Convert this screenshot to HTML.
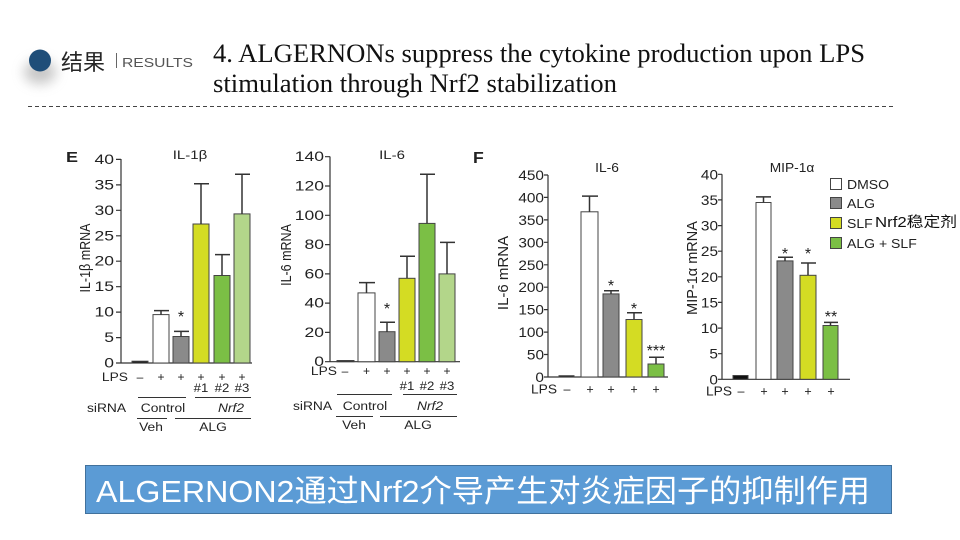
<!DOCTYPE html>
<html>
<head>
<meta charset="utf-8">
<style>
html,body{margin:0;padding:0;background:#fff;}
svg{display:block;}
.t{font-family:"Liberation Sans",Arial,sans-serif;fill:#222;}
</style>
</head>
<body>
<svg width="960" height="540" viewBox="0 0 960 540" xmlns="http://www.w3.org/2000/svg">
<defs>
<filter id="blur" x="-100%" y="-100%" width="300%" height="300%"><feGaussianBlur stdDeviation="6"/></filter>
</defs>
<rect width="960" height="540" fill="#fff"/>

<!-- Header -->
<ellipse cx="40" cy="72" rx="16" ry="12" fill="#999" opacity="0.55" filter="url(#blur)"/>
<circle cx="40" cy="60.5" r="11" fill="#1f4e79"/>
<text x="61" y="70" font-family="'Liberation Sans','Noto Sans CJK SC',sans-serif" font-size="22" fill="#262626">结果</text>
<line x1="116.5" y1="53" x2="116.5" y2="68" stroke="#666" stroke-width="1"/>
<text x="122" y="67" font-family="'Liberation Sans',sans-serif" font-size="12.5" fill="#555" textLength="71" lengthAdjust="spacingAndGlyphs">RESULTS</text>
<text x="213" y="62" font-family="'Liberation Serif',serif" font-size="26" fill="#111" textLength="652" lengthAdjust="spacingAndGlyphs">4. ALGERNONs suppress the cytokine production upon LPS</text>
<text x="213" y="92" font-family="'Liberation Serif',serif" font-size="26" fill="#111" textLength="404" lengthAdjust="spacingAndGlyphs">stimulation through Nrf2  stabilization</text>
<line x1="28" y1="106.5" x2="896" y2="106.5" stroke="#444" stroke-width="1" stroke-dasharray="4,3"/>

<!-- ===== Panel E : IL-1b ===== -->
<g class="t">
<text transform="translate(66,162) scale(1.2,1)" font-size="15" font-weight="bold">E</text>
<text transform="translate(190,159) scale(1.25,1)" font-size="12" text-anchor="middle">IL-1β</text>
<text transform="translate(90,258) scale(1.15,1) rotate(-90)" font-size="12.5" text-anchor="middle">IL-1β  mRNA</text>
<g font-size="13.5" text-anchor="end">
<text transform="translate(114,367.5) scale(1.3,1)">0</text>
<text transform="translate(114,342.1) scale(1.3,1)">5</text>
<text transform="translate(114,316.6) scale(1.3,1)">10</text>
<text transform="translate(114,291.2) scale(1.3,1)">15</text>
<text transform="translate(114,265.7) scale(1.3,1)">20</text>
<text transform="translate(114,240.3) scale(1.3,1)">25</text>
<text transform="translate(114,214.8) scale(1.3,1)">30</text>
<text transform="translate(114,189.4) scale(1.3,1)">35</text>
<text transform="translate(114,163.9) scale(1.3,1)">40</text>
</g>
</g>
<g stroke="#333" stroke-width="1.2" fill="none">
<line x1="121" y1="159" x2="121" y2="363"/>
<line x1="121" y1="363" x2="252" y2="363"/>
<path d="M116 363H121M116 337.6H121M116 312.1H121M116 286.7H121M116 261.2H121M116 235.8H121M116 210.3H121M116 184.9H121M116 159.4H121"/>
</g>
<g stroke="#444" stroke-width="1">
<rect x="132" y="361.2" width="16" height="1.8" fill="#111"/>
<rect x="153" y="314.6" width="16" height="48.4" fill="#fff"/>
<rect x="173" y="336.5" width="16" height="26.5" fill="#8a8a8a"/>
<rect x="193" y="224" width="16" height="139" fill="#d4dc23"/>
<rect x="214" y="275.5" width="16" height="87.5" fill="#7bbf45"/>
<rect x="234" y="213.9" width="16" height="149.1" fill="#b3d68a"/>
</g>
<g stroke="#333" stroke-width="1.5" fill="none">
<path d="M161 314.6V310.6M154 310.6H169"/>
<path d="M181 336.5V331.4M174 331.4H189"/>
<path d="M201 224V183.8M194 183.8H209"/>
<path d="M222 275.5V254.6M215 254.6H230"/>
<path d="M242 213.9V174.2M235 174.2H250"/>
</g>
<g class="t" font-size="12" text-anchor="middle">
<text x="181" y="322" font-size="16">*</text>
<text transform="translate(128,381) scale(1.15,1)" text-anchor="end">LPS</text>
<text x="140" y="381">–</text>
<text x="161" y="381">+</text><text x="181" y="381">+</text><text x="201" y="381">+</text><text x="222" y="381">+</text><text x="242" y="381">+</text>
<text transform="translate(201,392) scale(1.1,1)">#1</text>
<text transform="translate(222,392) scale(1.1,1)">#2</text>
<text transform="translate(242,392) scale(1.1,1)">#3</text>
<text transform="translate(87,412) scale(1.15,1)" text-anchor="start">siRNA</text>
<text transform="translate(163,412) scale(1.15,1)">Control</text>
<text transform="translate(231,412) scale(1.15,1)" font-style="italic">Nrf2</text>
<text transform="translate(151,431) scale(1.15,1)">Veh</text>
<text transform="translate(213,431) scale(1.15,1)">ALG</text>
</g>
<g stroke="#333" stroke-width="1">
<line x1="138" y1="397.5" x2="186" y2="397.5"/>
<line x1="195" y1="397.5" x2="251" y2="397.5"/>
<line x1="137" y1="418.5" x2="167" y2="418.5"/>
<line x1="175" y1="418.5" x2="251" y2="418.5"/>
</g>

<!-- ===== Panel E : IL-6 ===== -->
<g class="t">
<text transform="translate(392,159) scale(1.25,1)" font-size="12" text-anchor="middle">IL-6</text>
<text transform="translate(291,255) scale(1.15,1) rotate(-90)" font-size="12.5" text-anchor="middle">IL-6 mRNA</text>
<g font-size="13.5" text-anchor="end">
<text transform="translate(324,366.2) scale(1.3,1)">0</text>
<text transform="translate(324,336.9) scale(1.3,1)">20</text>
<text transform="translate(324,307.6) scale(1.3,1)">40</text>
<text transform="translate(324,278.4) scale(1.3,1)">60</text>
<text transform="translate(324,249.1) scale(1.3,1)">80</text>
<text transform="translate(324,219.8) scale(1.3,1)">100</text>
<text transform="translate(324,190.5) scale(1.3,1)">120</text>
<text transform="translate(324,161.2) scale(1.3,1)">140</text>
</g>
</g>
<g stroke="#333" stroke-width="1.2" fill="none">
<line x1="330" y1="156.5" x2="330" y2="361.7"/>
<line x1="330" y1="361.7" x2="460" y2="361.7"/>
<path d="M325 361.7H330M325 332.4H330M325 303.1H330M325 273.9H330M325 244.6H330M325 215.3H330M325 186H330M325 156.7H330"/>
</g>
<g stroke="#444" stroke-width="1">
<rect x="337" y="360.5" width="17" height="1.2" fill="#111"/>
<rect x="358" y="292.9" width="17" height="68.8" fill="#fff"/>
<rect x="379" y="331.7" width="16" height="30" fill="#8a8a8a"/>
<rect x="399" y="278.3" width="16" height="83.4" fill="#d4dc23"/>
<rect x="419" y="223.4" width="16" height="138.3" fill="#7bbf45"/>
<rect x="439" y="273.9" width="16" height="87.8" fill="#b3d68a"/>
</g>
<g stroke="#333" stroke-width="1.5" fill="none">
<path d="M366.5 292.9V282.6M359 282.6H375"/>
<path d="M387 331.7V322.2M380 322.2H395"/>
<path d="M407 278.3V256.3M400 256.3H415"/>
<path d="M427 223.4V174.3M420 174.3H435"/>
<path d="M447 273.9V242.4M440 242.4H455"/>
</g>
<g class="t" font-size="12" text-anchor="middle">
<text x="387" y="314" font-size="16">*</text>
<text transform="translate(337,375) scale(1.15,1)" text-anchor="end">LPS</text>
<text x="345" y="375">–</text>
<text x="366.5" y="375">+</text><text x="387" y="375">+</text><text x="407" y="375">+</text><text x="427" y="375">+</text><text x="447" y="375">+</text>
<text transform="translate(407,390) scale(1.1,1)">#1</text>
<text transform="translate(427,390) scale(1.1,1)">#2</text>
<text transform="translate(447,390) scale(1.1,1)">#3</text>
<text transform="translate(293,410) scale(1.15,1)" text-anchor="start">siRNA</text>
<text transform="translate(365,410) scale(1.15,1)">Control</text>
<text transform="translate(430,410) scale(1.15,1)" font-style="italic">Nrf2</text>
<text transform="translate(354,429) scale(1.15,1)">Veh</text>
<text transform="translate(418,429) scale(1.15,1)">ALG</text>
</g>
<g stroke="#333" stroke-width="1">
<line x1="337" y1="394.5" x2="392" y2="394.5"/>
<line x1="403" y1="394.5" x2="457" y2="394.5"/>
<line x1="336" y1="416.5" x2="373" y2="416.5"/>
<line x1="380" y1="416.5" x2="457" y2="416.5"/>
</g>

<!-- ===== Panel F : IL-6 ===== -->
<g class="t">
<text transform="translate(473,163) scale(1.1,1)" font-size="16" font-weight="bold">F</text>
<text transform="translate(607,172) scale(1.1,1)" font-size="12.5" text-anchor="middle">IL-6</text>
<text transform="translate(508,273) rotate(-90)" font-size="15" text-anchor="middle">IL-6  mRNA</text>
<g font-size="14" text-anchor="end">
<text transform="translate(544,382) scale(1.1,1)">0</text>
<text transform="translate(544,359.5) scale(1.1,1)">50</text>
<text transform="translate(544,337.1) scale(1.1,1)">100</text>
<text transform="translate(544,314.6) scale(1.1,1)">150</text>
<text transform="translate(544,292.2) scale(1.1,1)">200</text>
<text transform="translate(544,269.8) scale(1.1,1)">250</text>
<text transform="translate(544,247.3) scale(1.1,1)">300</text>
<text transform="translate(544,224.9) scale(1.1,1)">350</text>
<text transform="translate(544,202.4) scale(1.1,1)">400</text>
<text transform="translate(544,180) scale(1.1,1)">450</text>
</g>
</g>
<g stroke="#333" stroke-width="1.2" fill="none">
<line x1="548" y1="175" x2="548" y2="377"/>
<line x1="548" y1="377" x2="668" y2="377"/>
<path d="M544 377H548M544 354.5H548M544 332.1H548M544 309.6H548M544 287.2H548M544 264.8H548M544 242.3H548M544 219.9H548M544 197.4H548M544 175H548"/>
</g>
<g stroke="#444" stroke-width="1">
<rect x="559" y="375.7" width="15" height="1.3" fill="#111"/>
<rect x="581" y="211.8" width="17" height="165.2" fill="#fff"/>
<rect x="603" y="293.9" width="16" height="83.1" fill="#8a8a8a"/>
<rect x="626" y="319.5" width="16" height="57.5" fill="#d4dc23"/>
<rect x="648" y="364" width="16" height="13" fill="#7bbf45"/>
</g>
<g stroke="#333" stroke-width="1.5" fill="none">
<path d="M589.5 211.8V196.1M582 196.1H598"/>
<path d="M611 293.9V290.8M604 290.8H619"/>
<path d="M634 319.5V312.8M627 312.8H642"/>
<path d="M656 364V357.2M649 357.2H664"/>
</g>
<g class="t" font-size="12.5" text-anchor="middle">
<text x="611" y="291" font-size="16">*</text>
<text x="634" y="314" font-size="16">*</text>
<text x="656" y="356" font-size="16">***</text>
<text transform="translate(557,393.5) scale(1.1,1)" text-anchor="end">LPS</text>
<text x="567" y="393.5">–</text>
<text x="590" y="393.5">+</text><text x="611" y="393.5">+</text><text x="634" y="393.5">+</text><text x="656" y="393.5">+</text>
</g>

<!-- ===== Panel F : MIP-1a ===== -->
<g class="t">
<text transform="translate(792,172) scale(1.1,1)" font-size="12.5" text-anchor="middle">MIP-1α</text>
<text transform="translate(697,268) rotate(-90)" font-size="14.5" text-anchor="middle">MIP-1α  mRNA</text>
<g font-size="14" text-anchor="end">
<text transform="translate(718,384.3) scale(1.1,1)">0</text>
<text transform="translate(718,358.7) scale(1.1,1)">5</text>
<text transform="translate(718,333.1) scale(1.1,1)">10</text>
<text transform="translate(718,307.4) scale(1.1,1)">15</text>
<text transform="translate(718,281.8) scale(1.1,1)">20</text>
<text transform="translate(718,256.2) scale(1.1,1)">25</text>
<text transform="translate(718,230.6) scale(1.1,1)">30</text>
<text transform="translate(718,204.9) scale(1.1,1)">35</text>
<text transform="translate(718,179.3) scale(1.1,1)">40</text>
</g>
</g>
<g stroke="#333" stroke-width="1.2" fill="none">
<line x1="722" y1="174.3" x2="722" y2="379.3"/>
<line x1="722" y1="379.3" x2="850" y2="379.3"/>
<path d="M718 379.3H722M718 353.7H722M718 328.1H722M718 302.4H722M718 276.8H722M718 251.2H722M718 225.6H722M718 199.9H722M718 174.3H722"/>
</g>
<g stroke="#444" stroke-width="1">
<rect x="733" y="375.5" width="15" height="3.8" fill="#111"/>
<rect x="756" y="202.5" width="15" height="176.8" fill="#fff"/>
<rect x="777" y="260.9" width="16" height="118.4" fill="#8a8a8a"/>
<rect x="800" y="275.3" width="16" height="104" fill="#d4dc23"/>
<rect x="823" y="325.5" width="15" height="53.8" fill="#7bbf45"/>
</g>
<g stroke="#333" stroke-width="1.5" fill="none">
<path d="M763.5 202.5V196.9M756 196.9H771"/>
<path d="M785 260.9V257.3M778 257.3H793"/>
<path d="M808 275.3V263M801 263H816"/>
<path d="M830.5 325.5V322.4M824 322.4H838"/>
</g>
<g class="t" font-size="12.5" text-anchor="middle">
<text x="785" y="259" font-size="16">*</text>
<text x="808" y="259" font-size="16">*</text>
<text x="831" y="322" font-size="16">**</text>
<text transform="translate(732,395.5) scale(1.1,1)" text-anchor="end">LPS</text>
<text x="741" y="395.5">–</text>
<text x="764" y="395.5">+</text><text x="785" y="395.5">+</text><text x="808" y="395.5">+</text><text x="831" y="395.5">+</text>
</g>

<!-- Legend -->
<g stroke="#444" stroke-width="1">
<rect x="830.5" y="178.5" width="11" height="11" fill="#fff"/>
<rect x="830.5" y="197.5" width="11" height="11" fill="#8a8a8a"/>
<rect x="830.5" y="217.5" width="11" height="11" fill="#d4dc23"/>
<rect x="830.5" y="237.5" width="11" height="11" fill="#7bbf45"/>
</g>
<g class="t" font-size="13">
<text transform="translate(847,189) scale(1.08,1)">DMSO</text>
<text transform="translate(847,208) scale(1.08,1)">ALG</text>
<text transform="translate(847,228) scale(1.08,1)">SLF</text>
<text transform="translate(847,248) scale(1.08,1)">ALG + SLF</text>
</g>
<text x="875" y="227" font-family="'Liberation Sans','Noto Sans CJK SC',sans-serif" font-size="14.5" fill="#111" textLength="82" lengthAdjust="spacingAndGlyphs">Nrf2稳定剂</text>

<!-- Bottom banner -->
<rect x="85.5" y="465.5" width="806" height="48" fill="#5b9bd5" stroke="#41719c" stroke-width="1"/>
<text x="96" y="502" font-family="'Liberation Sans','Noto Sans CJK SC',sans-serif" font-size="31" fill="#fff" textLength="774" lengthAdjust="spacingAndGlyphs">ALGERNON2通过Nrf2介导产生对炎症因子的抑制作用</text>
</svg>
</body>
</html>
